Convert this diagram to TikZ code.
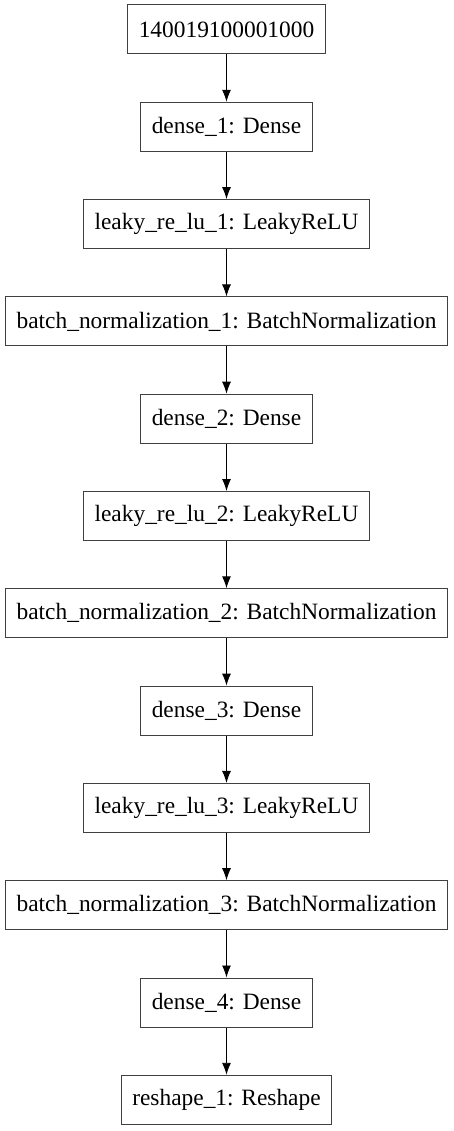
\documentclass[tikz,border=0pt]{standalone}
\usepackage{fontspec}
\setmainfont{Liberation Serif}
\usepackage{tikz}
\usetikzlibrary{arrows.meta,positioning}
\definecolor{Ink}{HTML}{000000}

\begin{document}
\begin{tikzpicture}[
  x=1pt, y=1pt,
  node distance=47.3pt,
  layer/.style={draw=Ink!75, line width=1pt, minimum height=49pt, inner xsep=11pt, font=\fontsize{23.4}{27}\selectfont},
  arrow/.style={-{Latex[length=12pt, width=9pt]}, line width=0.9pt, draw=Ink}
]
  \useasboundingbox (0,0) rectangle (453,-1131);
  \node[layer] (input) at (226.5,-29.5) {140019100001000};
  \node[layer, below=of input] (dense1) {dense\_1: Dense};
  \node[layer, below=of dense1] (leaky1) {leaky\_re\_lu\_1: LeakyReLU};
  \node[layer, below=of leaky1] (bn1) {batch\_normalization\_1: BatchNormalization};
  \node[layer, below=of bn1] (dense2) {dense\_2: Dense};
  \node[layer, below=of dense2] (leaky2) {leaky\_re\_lu\_2: LeakyReLU};
  \node[layer, below=of leaky2] (bn2) {batch\_normalization\_2: BatchNormalization};
  \node[layer, below=of bn2] (dense3) {dense\_3: Dense};
  \node[layer, below=of dense3] (leaky3) {leaky\_re\_lu\_3: LeakyReLU};
  \node[layer, below=of leaky3] (bn3) {batch\_normalization\_3: BatchNormalization};
  \node[layer, below=of bn3] (dense4) {dense\_4: Dense};
  \node[layer, below=of dense4] (reshape1) {reshape\_1: Reshape};
  \draw[arrow] (input) -- (dense1);
  \draw[arrow] (dense1) -- (leaky1);
  \draw[arrow] (leaky1) -- (bn1);
  \draw[arrow] (bn1) -- (dense2);
  \draw[arrow] (dense2) -- (leaky2);
  \draw[arrow] (leaky2) -- (bn2);
  \draw[arrow] (bn2) -- (dense3);
  \draw[arrow] (dense3) -- (leaky3);
  \draw[arrow] (leaky3) -- (bn3);
  \draw[arrow] (bn3) -- (dense4);
  \draw[arrow] (dense4) -- (reshape1);
\end{tikzpicture}
\end{document}
